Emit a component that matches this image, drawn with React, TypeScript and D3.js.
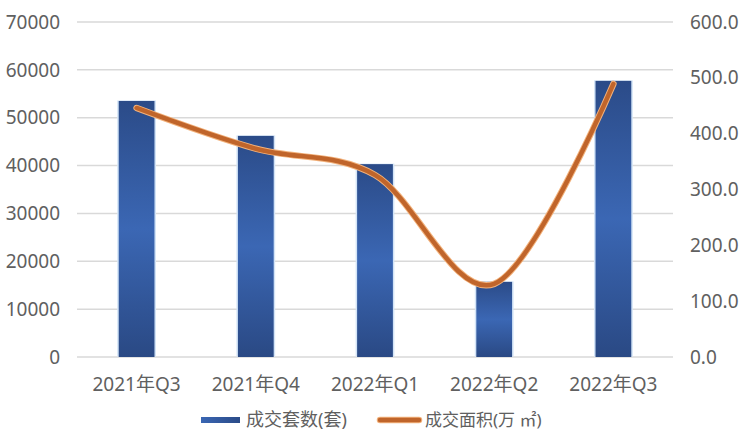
import { useEffect, useRef } from "react";
import * as d3 from "d3";

const categories = ["2021年Q3", "2021年Q4", "2022年Q1", "2022年Q2", "2022年Q3"];
const units = [53500, 46200, 40300, 15700, 57700];
const area = [446, 373, 326, 131, 489];
const leftTicks = [0, 10000, 20000, 30000, 40000, 50000, 60000, 70000];
const rightTicks = [0, 100, 200, 300, 400, 500, 600];
const legendLabels = ["成交套数(套)", "成交面积(万 ㎡)"];

const W = 748;
const H = 447;
const margin = { top: 22, right: 75, bottom: 90, left: 77 };
const font = "'Noto Sans', 'Noto Sans CJK SC', sans-serif";

const App = () => {
  const ref = useRef<SVGSVGElement>(null);

  useEffect(() => {
    const svg = d3.select(ref.current);
    svg.selectAll("*").remove();

    const x = d3
      .scaleBand()
      .domain(categories)
      .range([margin.left, W - margin.right])
      .paddingInner(0.7)
      .paddingOuter(0.35);
    const yL = d3.scaleLinear().domain([0, 70000]).range([H - margin.bottom, margin.top]);
    const yR = d3.scaleLinear().domain([0, 600]).range([H - margin.bottom, margin.top]);

    const defs = svg.append("defs");
    const grad = defs
      .append("linearGradient")
      .attr("id", "barGrad")
      .attr("x1", 0)
      .attr("y1", 0)
      .attr("x2", 0)
      .attr("y2", 1);
    grad.append("stop").attr("offset", "0%").attr("stop-color", "#2b4b88");
    grad.append("stop").attr("offset", "50%").attr("stop-color", "#3b67b4");
    grad.append("stop").attr("offset", "100%").attr("stop-color", "#2a4984");

    const legGrad = defs.append("linearGradient").attr("id", "legGrad").attr("x1", 0).attr("x2", 1);
    legGrad.append("stop").attr("offset", "0%").attr("stop-color", "#3a66b3");
    legGrad.append("stop").attr("offset", "100%").attr("stop-color", "#2b4b88");

    // grid
    svg
      .append("g")
      .selectAll("line")
      .data(leftTicks)
      .join("line")
      .attr("x1", margin.left)
      .attr("x2", W - margin.right)
      .attr("y1", (d) => yL(d))
      .attr("y2", (d) => yL(d))
      .attr("stroke", "#d9d9d9")
      .attr("stroke-width", 1.5);

    // left ticks
    svg
      .append("g")
      .selectAll("text")
      .data(leftTicks)
      .join("text")
      .attr("x", 60)
      .attr("y", (d) => yL(d))
      .attr("dy", "0.35em")
      .attr("text-anchor", "end")
      .attr("font-family", font)
      .attr("font-size", 19)
      .attr("fill", "#606060")
      .text((d) => d);

    // right ticks
    svg
      .append("g")
      .selectAll("text")
      .data(rightTicks)
      .join("text")
      .attr("x", 690)
      .attr("y", (d) => yR(d))
      .attr("dy", "0.35em")
      .attr("text-anchor", "start")
      .attr("font-family", font)
      .attr("font-size", 19)
      .attr("fill", "#606060")
      .text((d) => d.toFixed(1));

    // x labels
    svg
      .append("g")
      .selectAll("text")
      .data(categories)
      .join("text")
      .attr("x", (d) => (x(d) as number) + x.bandwidth() / 2)
      .attr("y", 391)
      .attr("text-anchor", "middle")
      .attr("font-family", font)
      .attr("font-size", 19)
      .attr("fill", "#606060")
      .text((d) => d);

    // bars
    const bars = svg.append("g");
    bars
      .selectAll("rect.glow")
      .data(units)
      .join("rect")
      .attr("class", "glow")
      .attr("x", (_, i) => (x(categories[i]) as number) - 1.5)
      .attr("y", (d) => yL(d) - 0.5)
      .attr("width", x.bandwidth() + 3)
      .attr("height", (d) => yL(0) - yL(d))
      .attr("fill", "#d3e4f7");
    bars
      .selectAll("rect.bar")
      .data(units)
      .join("rect")
      .attr("class", "bar")
      .attr("x", (_, i) => x(categories[i]) as number)
      .attr("y", (d) => yL(d))
      .attr("width", x.bandwidth())
      .attr("height", (d) => yL(0) - yL(d))
      .attr("fill", "url(#barGrad)");

    // line
    const line = d3
      .line<number>()
      .x((_, i) => (x(categories[i]) as number) + x.bandwidth() / 2)
      .y((d) => yR(d))
      .curve(d3.curveCatmullRom.alpha(0));
    svg
      .append("path")
      .attr("d", line(area))
      .attr("fill", "none")
      .attr("stroke", "#f2b27c")
      .attr("stroke-width", 6.5)
      .attr("stroke-linecap", "round");
    svg
      .append("path")
      .attr("d", line(area))
      .attr("fill", "none")
      .attr("stroke", "#c0652b")
      .attr("stroke-width", 4.5)
      .attr("stroke-linecap", "round");

    // legend
    const leg = svg.append("g");
    leg
      .append("rect")
      .attr("x", 201)
      .attr("y", 417)
      .attr("width", 39)
      .attr("height", 6)
      .attr("fill", "url(#legGrad)");
    leg
      .append("text")
      .attr("x", 246)
      .attr("y", 420)
      .attr("dy", "0.35em")
      .attr("font-family", font)
      .attr("font-size", 18)
      .attr("fill", "#606060")
      .text(legendLabels[0]);
    leg
      .append("line")
      .attr("x1", 380)
      .attr("x2", 419)
      .attr("y1", 420)
      .attr("y2", 420)
      .attr("stroke", "#f2b27c")
      .attr("stroke-width", 6.5)
      .attr("stroke-linecap", "round");
    leg
      .append("line")
      .attr("x1", 380)
      .attr("x2", 419)
      .attr("y1", 420)
      .attr("y2", 420)
      .attr("stroke", "#c0652b")
      .attr("stroke-width", 4.5)
      .attr("stroke-linecap", "round");
    leg
      .append("text")
      .attr("x", 425)
      .attr("y", 420)
      .attr("dy", "0.35em")
      .attr("font-family", font)
      .attr("font-size", 17)
      .attr("fill", "#606060")
      .text(legendLabels[1]);
  }, []);

  return (
    <svg
      ref={ref}
      width={W}
      height={H}
      style={{ position: "absolute", left: 0, top: 0, background: "#fff" }}
    />
  );
};

export default App;
